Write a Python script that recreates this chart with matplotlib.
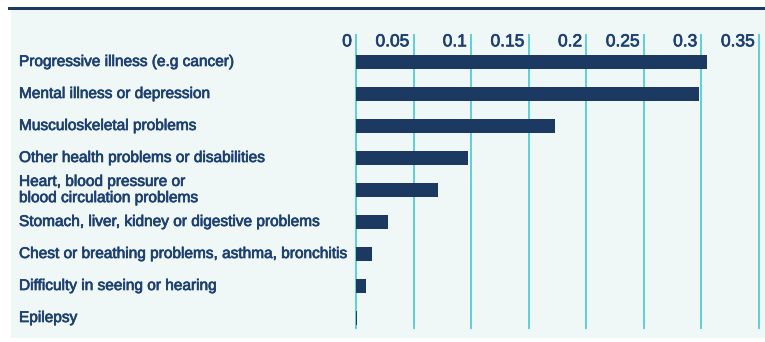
import matplotlib.pyplot as plt
from matplotlib.patches import Rectangle
import matplotlib.patheffects as pe

categories = [
    'Progressive illness (e.g cancer)',
    'Mental illness or depression',
    'Musculoskeletal problems',
    'Other health problems or disabilities',
    'Heart, blood pressure or\nblood circulation problems',
    'Stomach, liver, kidney or digestive problems',
    'Chest or breathing problems, asthma, bronchitis',
    'Difficulty in seeing or hearing',
    'Epilepsy',
]
values = [0.305, 0.2975, 0.1727, 0.097, 0.071, 0.028, 0.014, 0.0087, 0.0006]
ticks = [0, 0.05, 0.1, 0.15, 0.2, 0.25, 0.3, 0.35]
tick_labels = ['0', '0.05', '0.1', '0.15', '0.2', '0.25', '0.3', '0.35']

navy = '#1b3961'
text_col = '#1d4070'
grid_col = '#5ccfd9'
bg = '#eff8f7'

W, H = 765, 342
fig = plt.figure(figsize=(W / 100, H / 100), dpi=100)
fig.patch.set_facecolor('white')

# panel background and top rule
fig.add_artist(Rectangle((11 / W, 1 - 338 / H), (W - 11) / W, 328 / H,
                         transform=fig.transFigure, facecolor=bg, edgecolor='none', zorder=0))
fig.add_artist(Rectangle((8 / W, 1 - 10 / H), (W - 8) / W, 3.5 / H,
                         transform=fig.transFigure, facecolor=navy, edgecolor='none', zorder=1))

x0, x1 = 356, 759
y_top, y_bot = 35, 328
ax = fig.add_axes([x0 / W, 1 - y_bot / H, (x1 - x0) / W, (y_bot - y_top) / H])
ax.set_facecolor('none')
for s in ax.spines.values():
    s.set_visible(False)

ax.set_xlim(0, 0.35)
ax.set_ylim(8 + 10 / 32, -27 / 32)

for t in ticks:
    ax.axvline(t, color=grid_col, lw=1.4, zorder=1, clip_on=False)

pos = list(range(len(categories)))
ax.barh(pos, values, height=0.44, color=navy, zorder=2)

ax.set_xticks([])
ax.set_yticks([])

thick = [pe.withStroke(linewidth=0.5, foreground=text_col)]
narrow = ['Liberation Sans Narrow', 'Liberation Sans', 'DejaVu Sans']
for t, lab in zip(ticks, tick_labels):
    ax.annotate(lab, xy=(t, 1), xycoords=('data', 'axes fraction'),
                xytext=(-3, 0.5), textcoords='offset points',
                ha='right', va='top', fontsize=12.5, color=text_col,
                family=narrow, path_effects=thick)

for p, lab in zip(pos, categories):
    ax.annotate(lab, xy=(19 / W, p), xycoords=('figure fraction', 'data'),
                ha='left', va='center', fontsize=11.1, color=text_col,
                family=['Liberation Sans', 'DejaVu Sans'], linespacing=1.2,
                path_effects=thick)

fig.savefig('out.png', dpi=100, facecolor=fig.get_facecolor())
